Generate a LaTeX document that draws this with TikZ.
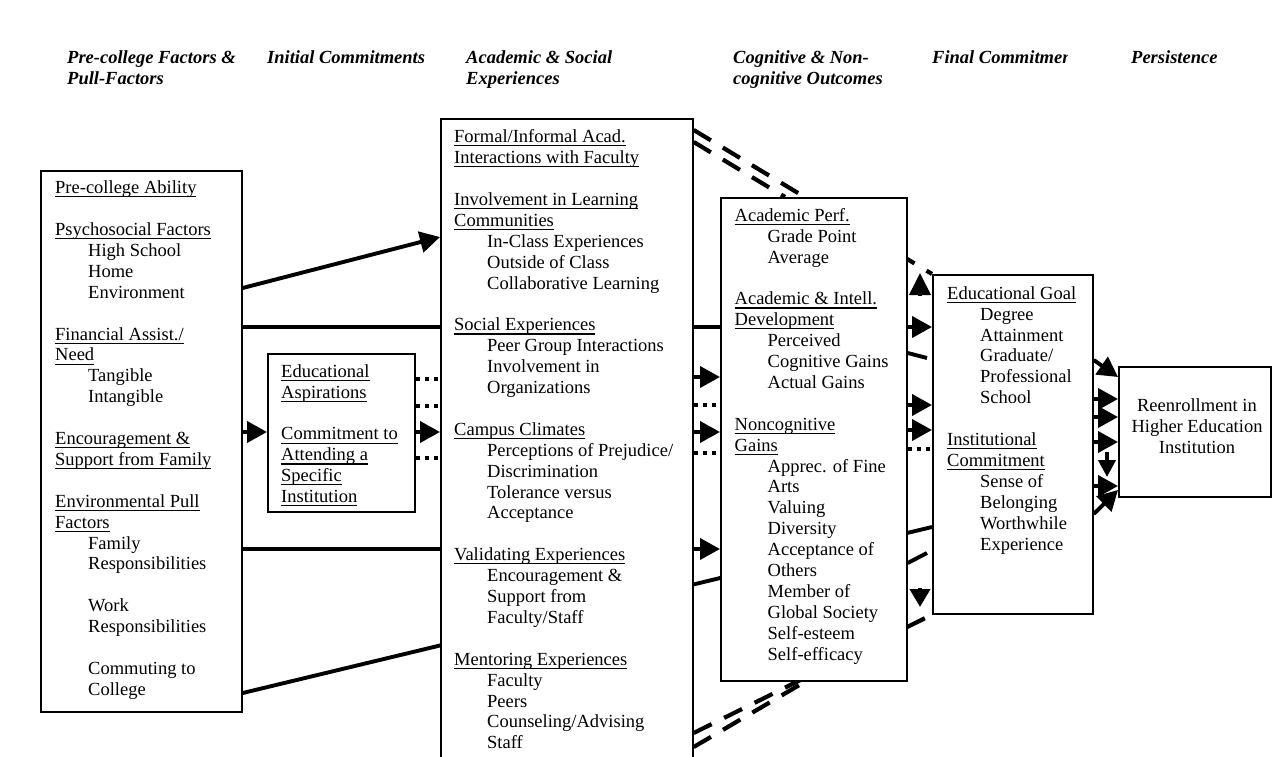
\documentclass[tikz,border=0pt]{standalone}
\usepackage{fontspec}
\setmainfont{Liberation Serif}
\usetikzlibrary{arrows.meta,backgrounds}
% underline that sits a fixed distance below the baseline
\newcommand{\uln}[1]{\leavevmode\setbox0=\hbox{#1}\rlap{\rule[-3.7pt]{\wd0}{1.1pt}}\box0}
\newcommand{\ind}{\hspace*{33pt}}
\newcommand{\topstrut}{\rule{0pt}{15pt}}

\tikzset{
  box/.style={draw, line width=1.7pt, fill=white, anchor=north west, inner sep=0pt},
  body/.style={anchor=north west, inner sep=0pt, align=left,
    font=\fontsize{18.5}{20.9}\selectfont},
  head/.style={anchor=north west, inner sep=0pt, align=left,
    font=\fontsize{18.5}{20.7}\selectfont\bfseries\itshape},
  link/.style={line width=3.9pt},
  arr/.style={link, -{Triangle[length=20pt,width=21pt]}},
  dots/.style={line width=4.5pt, dash pattern=on 4.5pt off 4.5pt},
  fbdash/.style={line width=4.2pt, dash pattern=on 20pt off 14pt},
}

\begin{document}
\begin{tikzpicture}[x=1pt, y=-1pt]
\useasboundingbox (0,0) rectangle (1272,757);
\clip (0,0) rectangle (1272,757);

% column headings
\node[head] (h1) at (67,48.5) {\topstrut Pre-college Factors \&\\Pull-Factors};
\node[head] (h2) at (267,48.5) {\topstrut Initial Commitments};
\node[head] (h3) at (466,48.5) {\topstrut Academic \& Social\\Experiences};
\node[head] (h4) at (733,48.5) {\topstrut Cognitive \& Non-\\cognitive Outcomes};
\begin{scope}
  \clip (925,40) rectangle (1067,75);
  \node[head] (h5) at (932,48.5) {\topstrut Final Commitments};
\end{scope}
\node[head] (h6) at (1131,48.5) {\topstrut Persistence};

% boxes
\node[box, minimum width=201pt, minimum height=541pt] (b1) at (40,170) {};
\node[box, minimum width=147pt, minimum height=158pt] (b2) at (267,353) {};
\node[box, minimum width=252pt, minimum height=700pt] (b3) at (440,118) {};
\node[box, minimum width=186pt, minimum height=483pt] (b4) at (720,197) {};
\node[box, minimum width=160pt, minimum height=339pt] (b5) at (932,274) {};
\node[box, minimum width=152pt, minimum height=130pt] (b6) at (1118,366) {};

% box contents
\node[body] (t1) at (55,178.5) {\topstrut\uln{Pre-college Ability}\\[20.9pt]
\uln{Psychosocial Factors}\\
\ind High School\\
\ind Home\\
\ind Environment\\[20.9pt]
\uln{Financial Assist./}\\
\uln{Need}\\
\ind Tangible\\
\ind Intangible\\[20.9pt]
\uln{Encouragement \&}\\
\uln{Support from Family}\\[20.9pt]
\uln{Environmental Pull}\\
\uln{Factors}\\
\ind Family\\
\ind Responsibilities\\[20.9pt]
\ind Work\\
\ind Responsibilities\\[20.9pt]
\ind Commuting to\\
\ind College};

\node[body] (t2) at (281,362) {\topstrut\uln{Educational}\\
\uln{Aspirations}\\[20.9pt]
\uln{Commitment to}\\
\uln{Attending a}\\
\uln{Specific}\\
\uln{Institution}};

\node[body] (t3) at (454,127.5) {\topstrut\uln{Formal/Informal Acad.}\\
\uln{Interactions with Faculty}\\[20.9pt]
\uln{Involvement in Learning}\\
\uln{Communities}\\
\ind In-Class Experiences\\
\ind Outside of Class\\
\ind Collaborative Learning\\[20.9pt]
\uln{Social Experiences}\\
\ind Peer Group Interactions\\
\ind Involvement in\\
\ind Organizations\\[20.9pt]
\uln{Campus Climates}\\
\ind Perceptions of Prejudice/\\
\ind Discrimination\\
\ind Tolerance versus\\
\ind Acceptance\\[20.9pt]
\uln{Validating Experiences}\\
\ind Encouragement \&\\
\ind Support from\\
\ind Faculty/Staff\\[20.9pt]
\uln{Mentoring Experiences}\\
\ind Faculty\\
\ind Peers\\
\ind Counseling/Advising\\
\ind Staff};

\node[body] (t4) at (734.5,206) {\topstrut\uln{Academic Perf.}\\
\ind Grade Point\\
\ind Average\\[20.9pt]
\uln{Academic \& Intell.}\\
\uln{Development}\\
\ind Perceived\\
\ind Cognitive Gains\\
\ind Actual Gains\\[20.9pt]
\uln{Noncognitive}\\
\uln{Gains}\\
\ind Apprec. of Fine\\
\ind Arts\\
\ind Valuing\\
\ind Diversity\\
\ind Acceptance of\\
\ind Others\\
\ind Member of\\
\ind Global Society\\
\ind Self-esteem\\
\ind Self-efficacy};

\node[body] (t5) at (947,284) {\topstrut\uln{Educational Goal}\\
\ind Degree\\
\ind Attainment\\
\ind Graduate/\\
\ind Professional\\
\ind School\\[20.9pt]
\uln{Institutional}\\
\uln{Commitment}\\
\ind Sense of\\
\ind Belonging\\
\ind Worthwhile\\
\ind Experience};

\node[body, align=center, anchor=north] (t6) at (1197,396.7)
  {\topstrut Reenrollment in\\Higher Education\\Institution};

% free ends of the short marks between the boxes
\coordinate (s1) at (927,358);
\coordinate (s2) at (927,553);
\coordinate (u0) at (920,296);
\coordinate (u1) at (920,273);
\coordinate (d0) at (920,588);
\coordinate (d1) at (920,607);
\coordinate (p0) at (1107,452);
\coordinate (p1) at (1107,477);

\begin{scope}[on background layer]
  % pre-college factors
  \draw[arr] (b1.east |- 0,288) -- (b3.west |- 0,237);
  \draw[arr] (b1.east |- 0,327) -- (b5.west |- 0,327);
  \draw[arr] (b1.east |- 0,432) -- (b2.west |- 0,432);
  \draw[arr] (b1.east |- 0,549) -- (b4.west |- 0,549);
  \draw[link] (b1.east |- 0,693) -- (b5.west |- 0,527);

  % initial commitments to experiences
  \draw[dots] (b2.east |- 0,379) -- (b3.west |- 0,379);
  \draw[dots] (b2.east |- 0,406) -- (b3.west |- 0,406);
  \draw[arr]  (b2.east |- 0,432) -- (b3.west |- 0,432);
  \draw[dots] (b2.east |- 0,458) -- (b3.west |- 0,458);

  % experiences to outcomes
  \draw[arr]  (b3.east |- 0,377) -- (b4.west |- 0,377);
  \draw[dots] (b3.east |- 0,405) -- (b4.west |- 0,405);
  \draw[arr]  (b3.east |- 0,432) -- (b4.west |- 0,432);
  \draw[dots] (b3.east |- 0,453) -- (b4.west |- 0,453);

  % feedback paths
  \draw[fbdash] (b3.east |- 0,130) -- (b5.north west);
  \draw[fbdash] (b3.east |- 0,142) -- (785,0 |- b4.north);
  \draw[fbdash] (b3.east |- 0,733) -- (b5.south west);
  \draw[fbdash] (b3.east |- 0,747) -- (805,0 |- b4.south);

  % outcomes to final commitments
  \draw[arr, -{Triangle[length=22pt,width=21pt]}] (u0) -- (u1);
  \draw[link] (b4.east |- 0,353) -- (s1);
  \draw[arr]  (b4.east |- 0,405) -- (b5.west |- 0,405);
  \draw[arr]  (b4.east |- 0,430) -- (b5.west |- 0,430);
  \draw[dots] (b4.east |- 0,449) -- (b5.west |- 0,449);
  \draw[link] (b4.east |- 0,563) -- (s2);
  \draw[arr, -{Triangle[length=18pt,width=20pt]}] (d0) -- (d1);

  % final commitments to persistence
  \draw[arr] (b5.east |- 0,360) -- (b6.west |- 0,377);
  \draw[arr] (b5.east |- 0,399) -- (b6.west |- 0,399);
  \draw[arr] (b5.east |- 0,417) -- (b6.west |- 0,417);
  \draw[arr] (b5.east |- 0,442) -- (b6.west |- 0,442);
  \draw[arr, -{Triangle[length=17pt,width=17pt]}] (p0) -- (p1);
  \draw[arr] (b5.east |- 0,486) -- (b6.west |- 0,486);
  \draw[arr] (b5.east |- 0,514) -- (b6.west |- 0,490);
\end{scope}
\end{tikzpicture}
\end{document}
